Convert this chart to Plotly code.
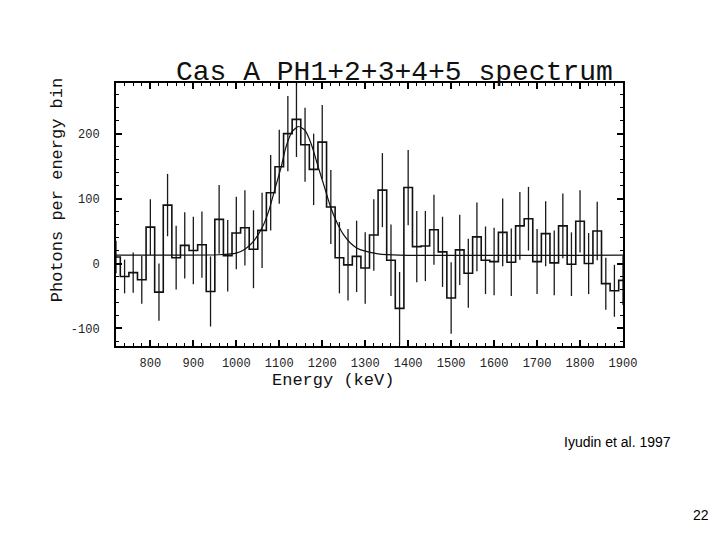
import plotly.graph_objects as go

# Bin centres (keV), 20 keV bins
energy = [720 + 20 * i for i in range(60)]

counts = [10, -20, -14, -25, 56, -44, 90, 9, 28, 20,
          29, -43, 68, 12, 47, 55, 22, 51, 109, 149,
          200, 222, 183, 145, 187, 87, 9, -2, 11, -7,
          44, 113, 5, -69, 117, 26, 27, 52, 18, -53,
          21, -15, 41, 5, 3, 48, 2, 58, 69, 3,
          46, 1, 58, -1, 65, 0, 50, -31, -42, -26]

errors = [25, 26, 31, 37, 43, 44, 48, 49, 51, 52,
          51, 54, 53, 55, 56, 58, 60, 58, 58, 57,
          58, 58, 57, 55, 57, 57, 55, 55, 55, 55,
          55, 57, 55, 56, 58, 55, 54, 54, 54, 55,
          54, 53, 53, 52, 52, 52, 52, 52, 49, 50,
          50, 50, 50, 49, 48, 47, 45, 40, 40, 38]

# Fitted line (Gaussian + constant)
fit_energy = [720, 960, 1000, 1020, 1040, 1060, 1075, 1090, 1105, 1115, 1130,
              1145, 1160, 1175, 1190, 1205, 1220, 1235, 1250, 1265, 1280,
              1300, 1330, 1380, 1900]
fit_counts = [13, 13.5, 16, 22, 34, 55, 80, 115, 150, 178, 203,
              211, 205, 183, 150, 118, 86, 62, 44, 32, 24,
              19, 15, 13, 13]

x_ticks = [800, 900, 1000, 1100, 1200, 1300, 1400, 1500, 1600, 1700, 1800, 1900]
y_ticks = [-100, 0, 100, 200]
y_tick_text = ["-100", "0", "100", "200"]

mono = "Liberation Mono"

fig = go.Figure()

fig.add_trace(go.Scatter(
    x=energy, y=counts, mode="markers",
    marker=dict(size=0.1, color="rgba(0,0,0,0)"),
    error_y=dict(type="data", array=errors, symmetric=True,
                 thickness=1.3, width=0, color="#1a1a1a"),
    hoverinfo="skip", showlegend=False))

fig.add_trace(go.Scatter(
    x=energy, y=counts, mode="lines", line_shape="hvh",
    line=dict(color="#111111", width=1.6), showlegend=False))

fig.add_trace(go.Scatter(
    x=fit_energy, y=fit_counts, mode="lines",
    line=dict(color="#111111", width=1.2, shape="spline", smoothing=0.6),
    showlegend=False))

axis_common = dict(
    showline=True, linecolor="black", linewidth=2, mirror="ticks",
    ticks="inside", ticklen=6, tickwidth=1.5, tickcolor="black",
    showgrid=False, zeroline=False,
    tickfont=dict(family=mono, size=12, color="#222222"),
)

fig.update_xaxes(range=[720, 1900], tickvals=x_ticks, ticklabelstandoff=5,
                 minor=dict(dtick=20, tick0=720, ticks="inside", ticklen=3,
                            tickcolor="black", tickwidth=1, showgrid=False),
                 **axis_common)
fig.update_yaxes(range=[-127, 278], tickvals=y_ticks, ticktext=y_tick_text,
                 ticklabelstandoff=12,
                 minor=dict(dtick=20, tick0=0, ticks="inside", ticklen=3,
                            tickcolor="black", tickwidth=1, showgrid=False),
                 **axis_common)

fig.update_layout(
    width=704, height=524,
    margin=dict(l=108, r=89, t=75, b=186),
    paper_bgcolor="white", plot_bgcolor="white",
    showlegend=False,
    annotations=[
        dict(text="Cas A PH1+2+3+4+5 spectrum", xref="paper", yref="paper",
             x=0.550, y=1.040, showarrow=False, xanchor="center", yanchor="middle",
             font=dict(family=mono, size=28, color="#111111")),
        dict(text="Energy (keV)", xref="paper", yref="paper",
             x=0.428, y=-0.132, showarrow=False, xanchor="center", yanchor="middle",
             font=dict(family=mono, size=17, color="#111111")),
        dict(text="Photons per energy bin", xref="paper", yref="paper",
             x=-0.116, y=0.593, showarrow=False, textangle=-90,
             xanchor="center", yanchor="middle",
             font=dict(family=mono, size=17, color="#111111")),
        dict(text="Iyudin et al. 1997", xref="paper", yref="paper",
             x=0.880, y=-0.365, showarrow=False, xanchor="left", yanchor="middle",
             font=dict(family="Liberation Sans", size=14, color="black")),
        dict(text="22", xref="paper", yref="paper",
             x=1.174, y=-0.643, showarrow=False, xanchor="right", yanchor="middle",
             font=dict(family="Liberation Sans", size=14, color="black")),
    ],
)

fig.write_html("out.html")
